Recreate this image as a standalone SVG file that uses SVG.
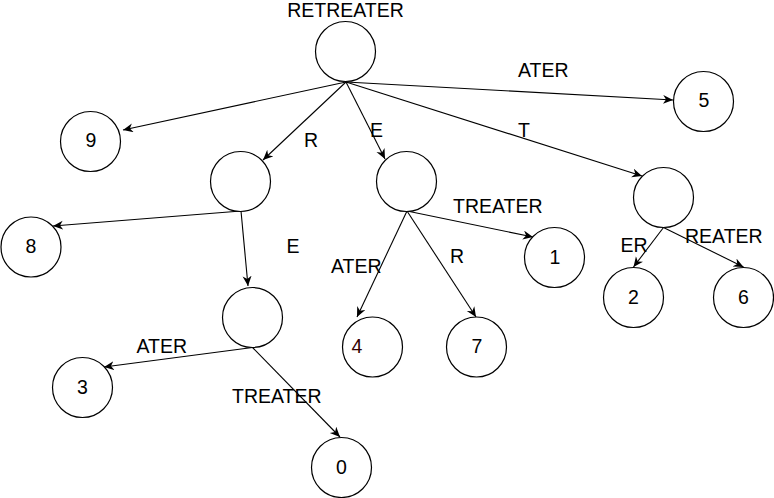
<svg xmlns="http://www.w3.org/2000/svg" width="774" height="498" viewBox="0 0 774 498">
<defs>
<marker id="arr" markerUnits="userSpaceOnUse" markerWidth="12" markerHeight="10" refX="10" refY="4.5" orient="auto">
<path d="M0,0 L10,4.5 L0,9 L3,4.5 Z" fill="#000"/>
</marker>
<style>
.n{fill:#fff;stroke:#000;stroke-width:1.2}
.e{fill:none;stroke:#000;stroke-width:1.1;marker-end:url(#arr)}
text{font-family:"Liberation Sans",Arial,sans-serif;font-size:19.5px;fill:#000}
.d{text-anchor:middle}
</style>
</defs>
<rect width="774" height="498" fill="#fff"/>
<g id="connectors">
<line class="e" x1="346" y1="82" x2="123" y2="130"/>
<line class="e" x1="346" y1="82" x2="263" y2="160"/>
<line class="e" x1="346" y1="82" x2="385" y2="159"/>
<line class="e" x1="346" y1="82" x2="673" y2="100"/>
<line class="e" x1="346" y1="82" x2="642" y2="176"/>
<line class="e" x1="241" y1="211" x2="53" y2="226"/>
<line class="e" x1="241" y1="211" x2="248" y2="286"/>
<line class="e" x1="252.5" y1="347.5" x2="104" y2="367"/>
<line class="e" x1="252.5" y1="347.5" x2="340" y2="437"/>
<line class="e" x1="407" y1="211" x2="357" y2="317"/>
<line class="e" x1="407" y1="211" x2="476" y2="317"/>
<line class="e" x1="407" y1="211" x2="533" y2="237"/>
<line class="e" x1="663.5" y1="227.5" x2="633.5" y2="267"/>
<line class="e" x1="663.5" y1="227.5" x2="743.5" y2="267"/>
<text x="304" y="147">R</text>
<text x="370" y="137">E</text>
<text x="518" y="77">ATER</text>
<text x="518" y="137">T</text>
<text x="286.5" y="253">E</text>
<text x="136.5" y="353">ATER</text>
<text x="232" y="403">TREATER</text>
<text x="331" y="273">ATER</text>
<text x="450" y="263">R</text>
<text x="453" y="213">TREATER</text>
<text x="620.5" y="252">ER</text>
<text x="685" y="243">REATER</text>
</g>
<g id="root"><circle class="n" cx="345.5" cy="51.5" r="30"/><text class="d" x="345.5" y="17">RETREATER</text></g>
<g id="n9"><circle class="n" cx="90.5" cy="141.5" r="30"/><text class="d" x="91" y="147">9</text></g>
<g id="n5"><circle class="n" cx="703.5" cy="101.5" r="30"/><text class="d" x="704" y="107">5</text></g>
<g id="nR"><circle class="n" cx="240.5" cy="181.5" r="30"/></g>
<g id="nE"><circle class="n" cx="406.5" cy="181.5" r="30"/></g>
<g id="nT"><circle class="n" cx="663.5" cy="197.5" r="30"/></g>
<g id="n8"><circle class="n" cx="31" cy="247" r="30"/><text class="d" x="31" y="253">8</text></g>
<g id="nRE"><circle class="n" cx="252.5" cy="317.5" r="30"/></g>
<g id="n3"><circle class="n" cx="82.5" cy="387.5" r="30"/><text class="d" x="82.5" y="393.5">3</text></g>
<g id="n0"><circle class="n" cx="341.5" cy="467.5" r="30"/><text class="d" x="341.5" y="473.5">0</text></g>
<g id="n4"><circle class="n" cx="372.5" cy="347" r="30"/><text x="351.5" y="353" style="fill:#330000">4</text></g>
<g id="n7"><circle class="n" cx="476.5" cy="347" r="30"/><text class="d" x="477" y="353">7</text></g>
<g id="n1"><circle class="n" cx="554.5" cy="257.5" r="30"/><text class="d" x="555" y="263.5">1</text></g>
<g id="n2"><circle class="n" cx="633.5" cy="297.5" r="30"/><text class="d" x="633.5" y="303.5">2</text></g>
<g id="n6"><circle class="n" cx="743.5" cy="297.5" r="30"/><text class="d" x="743.5" y="303.5">6</text></g>
</svg>
